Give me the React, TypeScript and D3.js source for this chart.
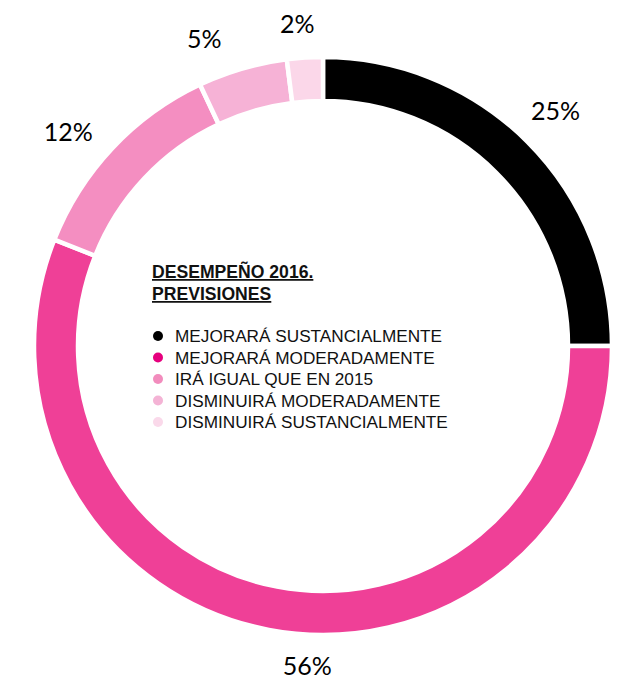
import React from "react";
import * as d3 from "d3";

const categories = [
  "MEJORARÁ SUSTANCIALMENTE",
  "MEJORARÁ MODERADAMENTE",
  "IRÁ IGUAL QUE EN 2015",
  "DISMINUIRÁ MODERADAMENTE",
  "DISMINUIRÁ SUSTANCIALMENTE",
];
const values = [25, 56, 12, 5, 2];
const valueLabels = ["25%", "56%", "12%", "5%", "2%"];
const ringColors = ["#000000", "#ef4097", "#f48ec1", "#f6b2d6", "#fbd7e9"];
const bulletColors = ["#000000", "#e6007e", "#f28cbd", "#f4b3d5", "#fad9ea"];
const titleLines = ["DESEMPEÑO 2016.", "PREVISIONES"];

const W = 630;
const H = 679;
const cx = 323;
const cy = 346;
const outerR = 289;
const innerR = 245;
const labelR = 329;
// label placement tweaks (Excel-style outside-end label boxes)
const labelShift: [number, number][] = [
  [0, -3],
  [46, -4],
  [-15, 10],
  [-27, 8],
  [-5, 5],
];

export default function App() {
  const pie = d3
    .pie<number>()
    .sort(null)
    .value((d) => d)
    .startAngle(0)
    .endAngle(2 * Math.PI);
  const arcs = pie(values);
  const arcGen = d3.arc<d3.PieArcDatum<number>>().innerRadius(innerR).outerRadius(outerR);

  const legendY = d3.scaleLinear().domain([0, 4]).range([342, 428]);

  return (
    <svg
      width={W}
      height={H}
      style={{ position: "absolute", left: 0, top: 0, display: "block", background: "#fff" }}
    >
      <g transform={`translate(${cx},${cy})`}>
        {arcs.map((a, i) => (
          <path key={i} d={arcGen(a) || ""} fill={ringColors[i]} stroke="#fff" strokeWidth={4.5} />
        ))}
        {arcs.map((a, i) => {
          const m = (a.startAngle + a.endAngle) / 2;
          const x = labelR * Math.sin(m) + labelShift[i][0];
          const y = -labelR * Math.cos(m) + labelShift[i][1];
          return (
            <text
              key={i}
              x={x}
              y={y}
              textAnchor="middle"
              dominantBaseline="central"
              fontFamily="Lato, 'Open Sans', sans-serif"
              fontSize={25}
              fill="#000"
            >
              {valueLabels[i]}
            </text>
          );
        })}
      </g>
      <g fontFamily="'Liberation Sans', Arial, sans-serif">
        {titleLines.map((t, i) => (
          <text
            key={t}
            x={152}
            y={278 + i * 22}
            fontSize={17.6}
            fontWeight="bold"
            textDecoration="underline"
            fill="#111"
          >
            {t}
          </text>
        ))}
        {categories.map((c, i) => (
          <g key={c}>
            <circle cx={158} cy={legendY(i) - 6} r={5} fill={bulletColors[i]} />
            <text x={175} y={legendY(i)} fontSize={17.2} fill="#111">
              {c}
            </text>
          </g>
        ))}
      </g>
    </svg>
  );
}
